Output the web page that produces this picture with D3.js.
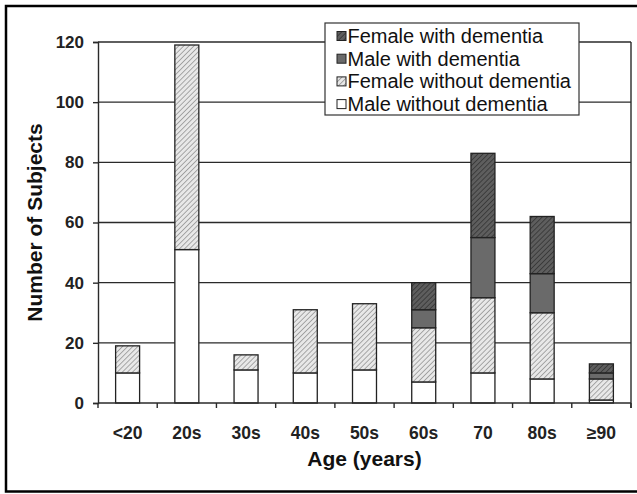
<!DOCTYPE html>
<html>
<head>
<meta charset="utf-8">
<script src="https://cdn.jsdelivr.net/npm/d3@7"></script>
<style>
  body { margin: 0; background: #fff; }
  text { font-family: "Liberation Sans", Arial, sans-serif; }
</style>
</head>
<body>
<script>
// data
var ages = ["<20", "20s", "30s", "40s", "50s", "60s", "70", "80s", "\u226590"]
var maleNoDem   = [10, 51, 11, 10, 11, 7, 10, 8, 1]
var femaleNoDem = [9, 68, 5, 21, 22, 18, 25, 22, 7]
var maleDem     = [0, 0, 0, 0, 0, 6, 20, 13, 2]
var femaleDem   = [0, 0, 0, 0, 0, 9, 28, 19, 3]
var yTicks = [0, 20, 40, 60, 80, 100, 120]

var keys = ["mnd", "fnd", "md", "fd"]
var names = {fd: "Female with dementia", md: "Male with dementia",
             fnd: "Female without dementia", mnd: "Male without dementia"}

var rows = ages.map(function (a, i) {
  return {age: a, mnd: maleNoDem[i], fnd: femaleNoDem[i], md: maleDem[i], fd: femaleDem[i]}
})

var svg = d3.select("body").append("svg")
  .attr("width", 637)
  .attr("height", 494)

var pLeft = 98, pRight = 631, pTop = 42, pBottom = 403

var x = d3.scaleBand().domain(ages).range([pLeft, pRight]).paddingInner(0.595).paddingOuter(0.2975)
var xb = d3.scaleBand().domain(ages).range([pLeft, pRight]) // for tick positions
var y = d3.scaleLinear().domain([0, 120]).range([pBottom, pTop])

// hatch patterns
var defs = svg.append("defs")
function hatch(id, bg, fg) {
  var p = defs.append("pattern").attr("id", id)
    .attr("patternUnits", "userSpaceOnUse")
    .attr("width", 3.6).attr("height", 3.6)
    .attr("patternTransform", "rotate(45)")
  p.append("rect").attr("width", 3.6).attr("height", 3.6).attr("fill", bg)
  p.append("line").attr("x1", 0).attr("y1", 0).attr("x2", 0).attr("y2", 3.6)
    .attr("stroke", fg).attr("stroke-width", 1.4)
}
hatch("hLight", "#e8e8e8", "#8a8a8a")
hatch("hDark", "#5e5e5e", "#2e2e2e")
var fills = {mnd: "#fff", fnd: "url(#hLight)", md: "#6a6a6a", fd: "url(#hDark)"}

// outer frame
svg.append("rect")
  .attr("x", 6).attr("y", 6).attr("width", 640).attr("height", 485.5)
  .attr("fill", "none").attr("stroke", "#000").attr("stroke-width", 2.5)

// grid lines
svg.append("g").selectAll("line")
  .data(yTicks.slice(1))
  .join("line")
  .attr("x1", pLeft).attr("x2", pRight)
  .attr("y1", function (d) { return y(d) }).attr("y2", function (d) { return y(d) })
  .attr("stroke", "#2a2a2a").attr("stroke-width", 1.4)

// right border of plot
svg.append("line")
  .attr("x1", pRight).attr("x2", pRight).attr("y1", pTop).attr("y2", pBottom + 5)
  .attr("stroke", "#2a2a2a").attr("stroke-width", 1.4)

// stacked bars
var stacked = d3.stack().keys(keys)(rows)
svg.append("g").selectAll("g")
  .data(stacked)
  .join("g")
  .attr("fill", function (d) { return fills[d.key] })
  .selectAll("rect")
  .data(function (d) { return d.filter(function (s) { return s[1] > s[0] }) })
  .join("rect")
  .attr("x", function (d) { return x(d.data.age) })
  .attr("width", x.bandwidth())
  .attr("y", function (d) { return y(d[1]) })
  .attr("height", function (d) { return y(d[0]) - y(d[1]) })
  .attr("stroke", "#222").attr("stroke-width", 1.3)

// y axis
var yAxis = svg.append("g")
  .attr("transform", "translate(" + pLeft + ",0)")
  .call(d3.axisLeft(y).tickValues(yTicks).tickSize(5).tickPadding(9))
yAxis.select(".domain").attr("stroke", "#2a2a2a").attr("stroke-width", 1.4)
yAxis.selectAll(".tick line").attr("stroke", "#2a2a2a").attr("stroke-width", 1.4)
yAxis.selectAll("text")
  .attr("font-size", 17).attr("font-weight", "bold").attr("fill", "#222")
  .attr("font-family", "Liberation Sans, Arial, sans-serif")

// x axis: ticks sit on the band edges
var xAxis = svg.append("g")
  .attr("transform", "translate(0," + pBottom + ")")
xAxis.append("line")
  .attr("x1", pLeft).attr("x2", pRight)
  .attr("stroke", "#2a2a2a").attr("stroke-width", 1.4)
xAxis.selectAll(".tk")
  .data(ages.concat(["end"]))
  .join("line")
  .attr("class", "tk")
  .attr("x1", function (d, i) { return pLeft + i * xb.step() })
  .attr("x2", function (d, i) { return pLeft + i * xb.step() })
  .attr("y1", 0).attr("y2", 5)
  .attr("stroke", "#2a2a2a").attr("stroke-width", 1.4)
xAxis.selectAll(".lbl")
  .data(ages)
  .join("text")
  .attr("class", "lbl")
  .attr("x", function (d) { return xb(d) + xb.bandwidth() / 2 })
  .attr("y", 36)
  .attr("text-anchor", "middle")
  .attr("font-size", 17.5).attr("font-weight", "bold").attr("fill", "#222")
  .text(function (d) { return d })

// axis titles
svg.append("text")
  .attr("x", (pLeft + pRight) / 2).attr("y", 466)
  .attr("text-anchor", "middle")
  .attr("font-size", 21).attr("font-weight", "bold").attr("fill", "#111")
  .text("Age (years)")

svg.append("text")
  .attr("transform", "translate(42," + (pTop + pBottom) / 2 + ") rotate(-90)")
  .attr("text-anchor", "middle")
  .attr("font-size", 21).attr("font-weight", "bold").attr("fill", "#111")
  .text("Number of Subjects")

// legend
var lg = svg.append("g").attr("transform", "translate(325,23)")
lg.append("rect")
  .attr("width", 254).attr("height", 92)
  .attr("fill", "#fff").attr("stroke", "#333").attr("stroke-width", 1.2)
var items = lg.selectAll(".it")
  .data(keys.slice().reverse())
  .join("g")
  .attr("class", "it")
  .attr("transform", function (d, i) { return "translate(12," + (13 + i * 22.7) + ")" })
items.append("rect")
  .attr("x", 0).attr("y", -4.5).attr("width", 9).attr("height", 9)
  .attr("fill", function (d) { return fills[d] })
  .attr("stroke", "#222").attr("stroke-width", 1)
items.append("text")
  .attr("x", 10.5).attr("y", 7)
  .attr("font-size", 20).attr("fill", "#111")
  .text(function (d) { return names[d] })
</script>
</body>
</html>
